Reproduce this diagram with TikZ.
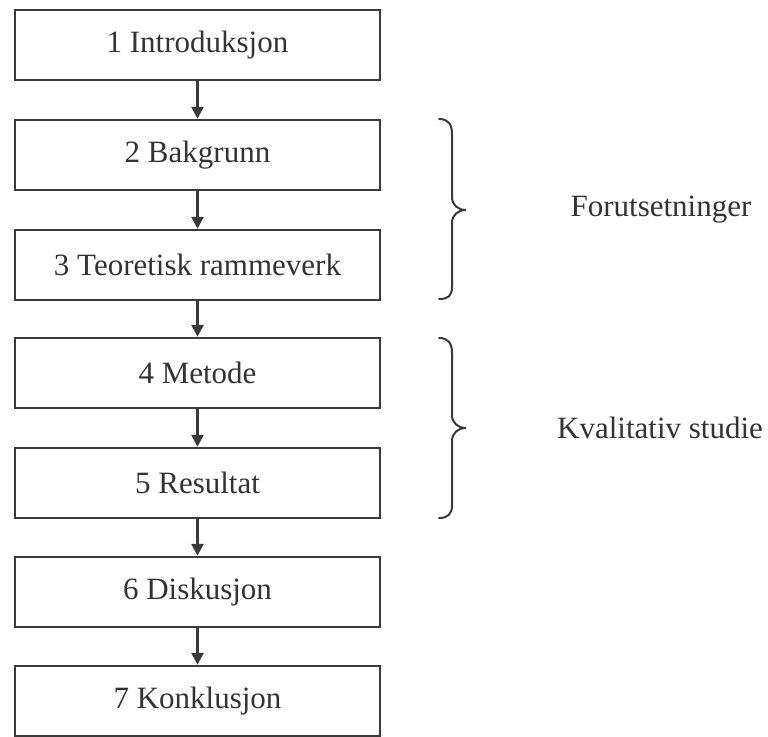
\documentclass[tikz,border=0pt]{standalone}
\usepackage{fontspec}
\setmainfont{Liberation Serif}
\usetikzlibrary{arrows.meta}
\definecolor{ink}{HTML}{3A3A3A}
\definecolor{txt}{HTML}{333333}
\begin{document}
\begin{tikzpicture}[x=1pt,y=-1pt,
  chapter/.style={draw=ink, line width=2.4pt, minimum width=365pt, minimum height=70pt,
    inner sep=0pt, text=txt, font=\fontsize{31}{36}\selectfont},
  flow/.style={draw=ink, line width=2.6pt, -{Triangle[length=12pt,width=12pt]}},
  bracepath/.style={draw=ink, line width=2pt, line cap=round},
  grouplabel/.style={text=txt, font=\fontsize{31}{36}\selectfont}]
\useasboundingbox (0,0) rectangle (768,736);
\node[chapter] (c1) at (197.5,45)  {1 Introduksjon};
\node[chapter] (c2) at (197.5,155) {2 Bakgrunn};
\node[chapter] (c3) at (197.5,265) {3 Teoretisk rammeverk};
\node[chapter] (c4) at (197.5,373) {4 Metode};
\node[chapter] (c5) at (197.5,483) {5 Resultat};
\node[chapter] (c6) at (197.5,592) {6 Diskusjon};
\node[chapter] (c7) at (197.5,701) {7 Konklusjon};
\foreach \a/\b in {c1/c2,c2/c3,c3/c4,c4/c5,c5/c6,c6/c7}
  \draw[flow] (\a.south) -- (\b.north);
% curly braces grouping the chapters
\draw[bracepath] (439,119) .. controls (448,119) and (452,124) .. (452,134)
  -- (452,197) .. controls (452,205) and (458,210) .. (466,210)
  .. controls (458,210) and (452,215) .. (452,223)
  -- (452,287) .. controls (452,296) and (448,299) .. (439,299);
\draw[bracepath] (439,338) .. controls (448,338) and (452,343) .. (452,353)
  -- (452,415) .. controls (452,423) and (458,428) .. (466,428)
  .. controls (458,428) and (452,433) .. (452,441)
  -- (452,505) .. controls (452,514) and (448,518) .. (439,518);
\node[grouplabel] (g1) at (661,210) {Forutsetninger};
\node[grouplabel] (g2) at (660,428) {Kvalitativ studie};
\end{tikzpicture}
\end{document}
